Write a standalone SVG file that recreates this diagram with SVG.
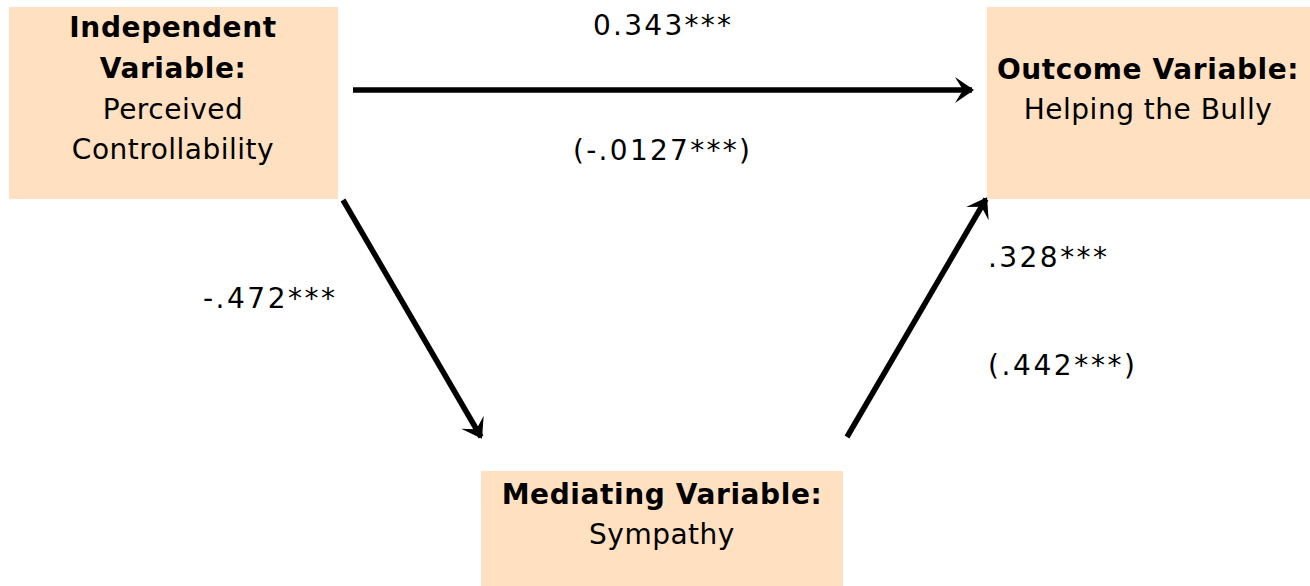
<svg xmlns="http://www.w3.org/2000/svg" width="1310" height="586" viewBox="0 0 1310 586">
<style>
.box{fill:#FFE0C0;}
.t{font-family:"DejaVu Sans","Liberation Sans",sans-serif;font-size:28px;letter-spacing:0.5px;fill:#000;text-anchor:middle;}
.b{font-weight:bold;letter-spacing:0.6px;}
.lbl{font-family:"DejaVu Sans","Liberation Sans",sans-serif;font-size:28px;fill:#000;}
.c{stroke:#000;stroke-width:5.5;fill:none;}
</style>
<defs>
<marker id="ah" markerUnits="userSpaceOnUse" markerWidth="32" markerHeight="32" viewBox="-22 -16 26 32" refX="0" refY="0" orient="auto">
<path d="M2,0 L-17,-13 L-9,0 L-17,13 Z" fill="#000"/>
</marker>
</defs>
<rect width="1310" height="586" fill="#fff"/>
<g id="iv">
<rect class="box" x="9" y="7" width="329" height="192"/>
<text class="t b" x="173" y="37">Independent</text>
<text class="t b" x="173" y="78">Variable:</text>
<text class="t" x="173" y="119">Perceived</text>
<text class="t" x="173" y="159">Controllability</text>
</g>
<g id="dv">
<rect class="box" x="987" y="7" width="323" height="192"/>
<text class="t b" x="1148" y="79">Outcome Variable:</text>
<text class="t" x="1148" y="119">Helping the Bully</text>
</g>
<g id="mv">
<rect class="box" x="481" y="471" width="362" height="115"/>
<text class="t b" x="662" y="504">Mediating Variable:</text>
<text class="t" x="662" y="544">Sympathy</text>
</g>
<g id="connectors">
<line class="c" x1="353" y1="90" x2="972" y2="90" marker-end="url(#ah)"/>
<line class="c" x1="343" y1="200" x2="481" y2="437" marker-end="url(#ah)"/>
<line class="c" x1="847" y1="437" x2="986" y2="199" marker-end="url(#ah)"/>
</g>
<g id="labels">
<text class="lbl" x="593" y="35" textLength="138" lengthAdjust="spacing">0.343***</text>
<text class="lbl" x="573" y="160" textLength="177" lengthAdjust="spacing">(-.0127***)</text>
<text class="lbl" x="203" y="308" textLength="132" lengthAdjust="spacing">-.472***</text>
<text class="lbl" x="988" y="267" textLength="119" lengthAdjust="spacing">.328***</text>
<text class="lbl" x="988" y="375" textLength="147" lengthAdjust="spacing">(.442***)</text>
</g>
</svg>
